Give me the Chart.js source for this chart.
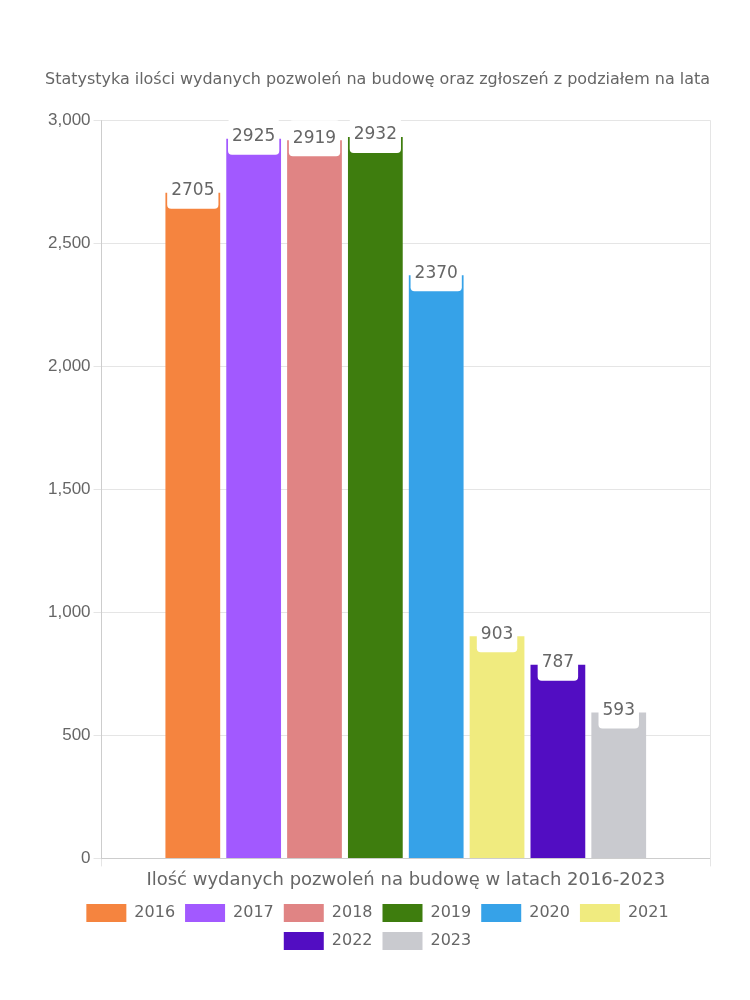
<!DOCTYPE html>
<html>
<head>
<meta charset="utf-8">
<script src="https://cdn.jsdelivr.net/npm/chart.js@4"></script>
<style>
  html, body { margin: 0; padding: 0; background: #fff; }
  #wrap { width: 750px; height: 1000px; }
</style>
</head>
<body>
<div id="wrap"><canvas id="chart"></canvas></div>
<script>
// data
var years = ['2016', '2017', '2018', '2019', '2020', '2021', '2022', '2023'];
var permits = [2705, 2925, 2919, 2932, 2370, 903, 787, 593];
var colors = ['#f5843f', '#a259ff', '#e08484', '#3e7d0e', '#36a2e8', '#f0eb7f', '#520dc2', '#c9cacf'];
var category = ['Ilość wydanych pozwoleń na budowę w latach 2016-2023'];
var yTicks = [0, 500, 1000, 1500, 2000, 2500, 3000];

var roundFont = "'DejaVu Sans', 'Noto Sans', sans-serif";

// white label boxes at the top of each bar
var topLabels = {
    id: 'topLabels',
    afterDatasetsDraw: function(chart) {
        var ctx = chart.ctx;
        ctx.save();
        ctx.font = '17px ' + roundFont;
        ctx.textAlign = 'center';
        ctx.textBaseline = 'middle';
        chart.data.datasets.forEach(function(ds, i) {
            var meta = chart.getDatasetMeta(i);
            meta.data.forEach(function(bar, j) {
                var txt = String(ds.data[j]);
                var w = ctx.measureText(txt).width + 8;
                var x = bar.x, y = bar.y;
                ctx.fillStyle = '#fff';
                ctx.beginPath();
                ctx.roundRect(x - w / 2, y - 20, w, 36, 4);
                ctx.fill();
                ctx.fillStyle = '#666';
                ctx.fillText(txt, x, y - 2);
            });
        });
        ctx.restore();
    }
};

var datasets = [];
for (var i = 0; i < years.length; i++) {
    datasets.push({
        label: years[i],
        data: [permits[i]],
        backgroundColor: colors[i],
        borderWidth: 0,
        barPercentage: 0.9,
        categoryPercentage: 0.8
    });
}

new Chart(document.getElementById('chart').getContext('2d'), {
    type: 'bar',
    data: { labels: category, datasets: datasets },
    plugins: [topLabels],
    options: {
        responsive: true,
        maintainAspectRatio: false,
        animation: false,
        layout: { padding: { top: 60, left: 45, right: 40, bottom: 40 } },
        plugins: {
            title: {
                display: true,
                text: 'Statystyka ilości wydanych pozwoleń na budowę oraz zgłoszeń z podziałem na lata',
                color: '#666',
                font: { family: roundFont, size: 16, weight: 'normal' },
                padding: { top: 10, bottom: 31 }
            },
            legend: {
                position: 'bottom',
                labels: {
                    color: '#666',
                    boxWidth: 40,
                    boxHeight: 18,
                    font: { family: roundFont, size: 16 }
                }
            },
            tooltip: { enabled: false }
        },
        scales: {
            x: {
                ticks: {
                    color: '#666',
                    font: { family: roundFont, size: 18 }
                },
                grid: { color: '#e5e5e5' }
            },
            y: {
                min: 0,
                max: 3000,
                afterBuildTicks: function(axis) {
                    axis.ticks = yTicks.map(function(v) { return { value: v }; });
                },
                ticks: {
                    color: '#666',
                    font: { family: "'Liberation Sans', Arial, sans-serif", size: 17 }
                },
                grid: { color: '#e5e5e5' }
            }
        }
    }
});
</script>
</body>
</html>
